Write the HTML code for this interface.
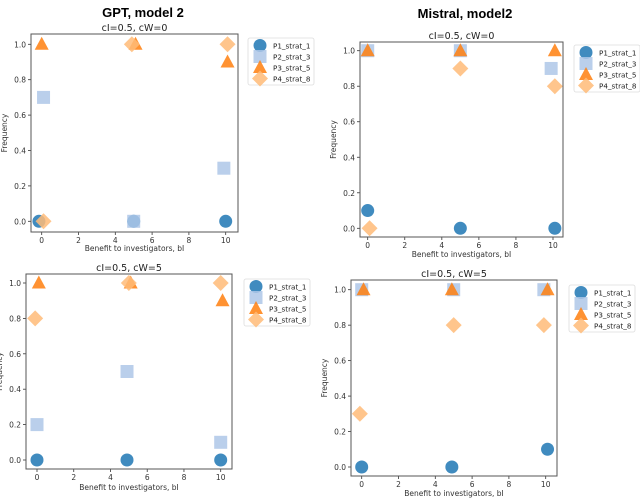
<!DOCTYPE html>
<html><head><meta charset="utf-8"><style>
body{margin:0;background:#fff;}
svg{display:block;font-family:"DejaVu Sans","Liberation Sans",sans-serif;}
</style></head><body>
<svg id="c" width="640" height="498" viewBox="0 0 640 498">
<text x="143" y="17" text-anchor="middle" font-size="13" font-weight="bold" fill="#000" font-family="Liberation Sans, sans-serif">GPT, model 2</text>
<text x="465" y="18" text-anchor="middle" font-size="13" font-weight="bold" fill="#000" font-family="Liberation Sans, sans-serif">Mistral, model2</text>
</svg>
<script>
const seriesNames = ["P1_strat_1","P2_strat_3","P3_strat_5","P4_strat_8"];
const xTicks = [0,2,4,6,8,10];
const yTicks = [0,0.2,0.4,0.6,0.8,1.0];
const panelTitles = ["cI=0.5, cW=0","cI=0.5, cW=0","cI=0.5, cW=5","cI=0.5, cW=5"];
// x values (small jitter) per panel per series
const tlX = [[-0.15,5,10],[0.1,5,9.9],[0,5.1,10.1],[0.1,4.9,10.1]];
const tlY = [[0,0,0],[0.7,0,0.3],[1,1,0.9],[0,1,1]];
const trX = [[0,5,10.1],[0,5,9.9],[0,5,10.1],[0.1,5,10.1]];
const trY = [[0.1,0,0],[1,1,0.9],[1,1,1],[0,0.9,0.8]];
const blX = [[0,4.9,10],[0,4.9,10],[0.1,5.1,10.1],[-0.1,5,10]];
const blY = [[0,0,0],[0.2,0.5,0.1],[1,1,0.9],[0.8,1,1]];
const brX = [[0,4.9,10.1],[0,5,9.9],[0.1,4.9,10.1],[-0.1,5,9.9]];
const brY = [[0,0,0.1],[1,1,1],[1,1,1],[0.3,0.8,0.8]];

const colors=["#1f77b4","#aec7e8","#ff7f0e","#ffbb78"];
const NS="http://www.w3.org/2000/svg";
const svg=document.getElementById('c');
function el(t,a,p){const e=document.createElementNS(NS,t);for(const k in a)e.setAttribute(k,a[k]);(p||svg).appendChild(e);return e;}
const panels=[
 {name:'gpt-cw0',L:31,R:238,T:34,B:232,x0:41.7,x10:225.7,y0:221.3,y1:44.3,tY:31,xl:251,lx:248,ly:38,X:tlX,Y:tlY},
 {name:'mistral-cw0',L:360,R:563,T:42,B:237,x0:367.7,x10:553,y0:228.3,y1:50.7,tY:39,xl:257,lx:574,ly:45,X:trX,Y:trY},
 {name:'gpt-cw5',L:26,R:232,T:274,B:469,x0:37,x10:220.7,y0:460,y1:283,tY:271,xl:490,lx:244,ly:279,X:blX,Y:blY},
 {name:'mistral-cw5',L:351,R:557,T:280,B:476,x0:361.7,x10:545.7,y0:467,y1:289.7,tY:277,xl:496,lx:569,ly:285,X:brX,Y:brY}
];
function marker(g,k,cx,cy,name){
 const c=colors[k];let m;const op=0.85;
 if(k===0)m=el('circle',{cx,cy,r:6.5,fill:c,'fill-opacity':op},g);
 else if(k===1)m=el('rect',{x:cx-6.5,y:cy-6.5,width:13,height:13,fill:c,'fill-opacity':op},g);
 else if(k===2)m=el('polygon',{points:`${cx},${cy-7.5} ${cx+7},${cy+5.5} ${cx-7},${cy+5.5}`,fill:c,'fill-opacity':op},g);
 else m=el('polygon',{points:`${cx},${cy-8} ${cx+8},${cy} ${cx},${cy+8} ${cx-8},${cy}`,fill:c,'fill-opacity':op},g);
 
 
 return m;
}
panels.forEach((p,pi)=>{
 const g=el('g',{});
 
 
 const sx=v=>p.x0+(p.x10-p.x0)*v/10, sy=v=>p.y0+(p.y1-p.y0)*v;
 const t=el('text',{x:(p.L+p.R)/2,y:p.tY,'text-anchor':'middle','font-size':9.5,fill:'#222'},g);t.textContent=panelTitles[pi];
 
 
 xTicks.forEach(v=>{const x=sx(v);el('line',{x1:x,x2:x,y1:p.B,y2:p.B+3,stroke:'#333','stroke-width':0.8},g);
  const tt=el('text',{x,y:p.B+11,'text-anchor':'middle','font-size':7.5,fill:'#333'},g);tt.textContent=v;
  
  });
 yTicks.forEach(v=>{const y=sy(v);el('line',{x1:p.L-3,x2:p.L,y1:y,y2:y,stroke:'#333','stroke-width':0.8},g);
  const tt=el('text',{x:p.L-5,y:y+3,'text-anchor':'end','font-size':7.5,fill:'#333'},g);tt.textContent=v.toFixed(1);
  
  });
 const xl=el('text',{x:(p.L+p.R)/2,y:p.xl,'text-anchor':'middle','font-size':7.5,fill:'#333'},g);xl.textContent='Benefit to investigators, bI';
 
 
 const ym=(p.T+p.B)/2;
 const yl=el('text',{x:p.L-24,y:ym,'text-anchor':'middle','font-size':7.5,fill:'#333',transform:`rotate(-90 ${p.L-24} ${ym})`},g);yl.textContent='Frequency';
 
 
 for(let k=0;k<4;k++)for(let i=0;i<3;i++)marker(g,k,sx(p.X[k][i]),sy(p.Y[k][i]),'point-'+seriesNames[k]);
 el('rect',{x:p.L,y:p.T,width:p.R-p.L,height:p.B-p.T,fill:'none',stroke:'#555','stroke-width':1},g);
 const lg=el('g',{},g);
 
 
 el('rect',{x:p.lx,y:p.ly,width:66,height:47,fill:'#fff',stroke:'#ddd','stroke-width':0.8,rx:2},lg);
 seriesNames.forEach((s,k)=>{const y=p.ly+7.5+k*11;
  marker(lg,k,p.lx+12,y,'legend-marker');
  const tx=el('text',{x:p.lx+25,y:y+3,'font-size':7.2,fill:'#222'},lg);tx.textContent=s;
  
  });
});
</script>
</body></html>
